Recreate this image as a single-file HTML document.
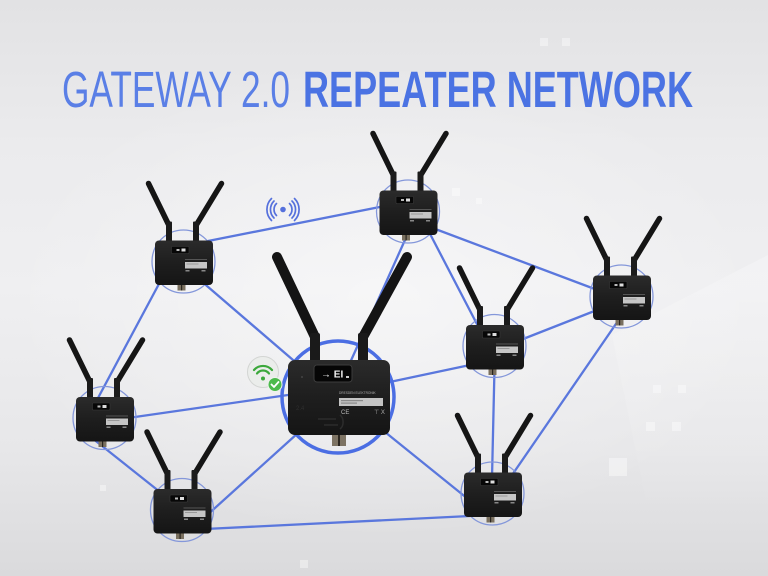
<!DOCTYPE html>
<html><head><meta charset="utf-8"><style>
html,body{margin:0;padding:0;width:768px;height:576px;overflow:hidden;background:#e8e8ea}
svg{display:block}
</style></head><body>
<svg width="768" height="576" viewBox="0 0 768 576" xmlns="http://www.w3.org/2000/svg">
<defs>
<linearGradient id="bg" x1="0" y1="0" x2="0" y2="1">
<stop offset="0" stop-color="#e2e2e4"/><stop offset="0.25" stop-color="#ebebed"/>
<stop offset="0.5" stop-color="#efeff1"/><stop offset="0.78" stop-color="#e7e7e9"/>
<stop offset="1" stop-color="#dadadc"/></linearGradient>
<radialGradient id="glow" cx="0.5" cy="0.5" r="0.5"><stop offset="0" stop-color="#fff" stop-opacity="0.45"/><stop offset="1" stop-color="#fff" stop-opacity="0"/></radialGradient>
<linearGradient id="wedge" x1="0" y1="0" x2="0" y2="1"><stop offset="0" stop-color="#fff" stop-opacity="0.25"/><stop offset="1" stop-color="#fff" stop-opacity="0"/></linearGradient>
<linearGradient id="bodyg" x1="0" y1="0" x2="0" y2="1"><stop offset="0" stop-color="#2b2b2b"/><stop offset="0.5" stop-color="#1e1e1e"/><stop offset="1" stop-color="#151515"/></linearGradient>
<g id="dev">
 <circle r="31.5" fill="none" stroke="#8497da" stroke-width="1.3"/>
 <line x1="-35" y1="-78" x2="-14.5" y2="-36" stroke="#151515" stroke-width="5.5" stroke-linecap="round"/>
 <line x1="38" y1="-78" x2="12.5" y2="-36" stroke="#151515" stroke-width="5.5" stroke-linecap="round"/>
 <rect x="-17.5" y="-40" width="6" height="20" rx="1" fill="#1b1b1b"/>
 <rect x="9.5" y="-40" width="6" height="20" rx="1" fill="#1b1b1b"/>
 <rect x="-6" y="21" width="8" height="8" fill="#7a705f"/>
 <rect x="-2.5" y="21" width="1.2" height="8" fill="#2a261f"/>
 <rect x="-28.5" y="-21" width="58" height="44.5" rx="4" fill="url(#bodyg)"/>
 <rect x="-12" y="-15" width="17.5" height="7" rx="1" fill="#070707" stroke="#3a3a3a" stroke-width="0.6"/>
 <rect x="-7" y="-12.5" width="3" height="2" fill="#bbb"/>
 <rect x="-2" y="-13" width="4" height="3" fill="#ddd"/>
 <rect x="1.5" y="-2.5" width="22" height="1" fill="#555"/>
 <rect x="1.5" y="0.5" width="22" height="6.5" fill="#c6c6c6"/>
 <rect x="3" y="2" width="12" height="1" fill="#999"/>
 <rect x="2" y="8.5" width="4" height="1.5" fill="#888"/>
 <rect x="18" y="8.5" width="4" height="1.5" fill="#888"/>
</g>
</defs>
<rect width="768" height="576" fill="url(#bg)"/>
<ellipse cx="384" cy="300" rx="380" ry="240" fill="url(#glow)"/>
<polygon points="612,335 768,255 768,520 650,520" fill="url(#wedge)"/>
<g fill="#ffffff" opacity="0.4">
<rect x="609" y="458" width="18" height="18"/><rect x="646" y="422" width="9" height="9"/><rect x="672" y="422" width="9" height="9"/>
<rect x="653" y="385" width="8" height="8"/><rect x="678" y="385" width="8" height="8"/>
<rect x="540" y="38" width="8" height="8"/><rect x="562" y="38" width="8" height="8"/>
<rect x="452" y="188" width="8" height="8"/><rect x="476" y="198" width="6" height="6"/>
<rect x="100" y="485" width="6" height="6"/><rect x="300" y="560" width="8" height="8"/>
</g>

<!-- Title -->
<text x="62" y="107" font-family="Liberation Sans, Arial, sans-serif" font-size="51" fill="#5a7fe6" textLength="228" lengthAdjust="spacingAndGlyphs">GATEWAY 2.0</text>
<text x="303" y="107" font-family="Liberation Sans, Arial, sans-serif" font-size="51" font-weight="bold" fill="#4b73e3" textLength="390" lengthAdjust="spacingAndGlyphs">REPEATER NETWORK</text>

<!-- Connections -->
<g stroke="#5a77dd" stroke-width="2.3" stroke-linecap="round" fill="none">
<line x1="208" y1="241" x2="385" y2="206"/>
<line x1="200" y1="280" x2="300" y2="366"/>
<line x1="160" y1="282" x2="98" y2="398"/>
<line x1="430" y1="227" x2="600" y2="291"/>
<line x1="428" y1="230" x2="479" y2="328"/>
<line x1="409" y1="231" x2="349" y2="365"/>
<line x1="597" y1="310" x2="518" y2="341"/>
<line x1="620" y1="318" x2="510" y2="478"/>
<line x1="470" y1="365" x2="385" y2="383"/>
<line x1="494.5" y1="368" x2="492" y2="478"/>
<line x1="385" y1="432" x2="468" y2="499"/>
<line x1="205" y1="529" x2="470" y2="516"/>
<line x1="298" y1="433" x2="205" y2="517"/>
<line x1="128" y1="418" x2="295" y2="394"/>
<line x1="92" y1="438" x2="160" y2="492"/>
</g>

<!-- Broadcast icon -->
<g stroke="#5570dc" stroke-width="1.7" fill="none" stroke-linecap="round">
<path d="M276.5 203.5 A8.5 8.5 0 0 0 276.5 215.5"/>
<path d="M274 201 A12 12 0 0 0 274 218"/>
<path d="M271.5 198.5 A15.5 15.5 0 0 0 271.5 220.5"/>
<path d="M289.5 203.5 A8.5 8.5 0 0 1 289.5 215.5"/>
<path d="M292 201 A12 12 0 0 1 292 218"/>
<path d="M294.5 198.5 A15.5 15.5 0 0 1 294.5 220.5"/>
</g>
<circle cx="283" cy="209.5" r="2.8" fill="#5570dc"/>

<!-- Small devices -->
<use href="#dev" x="183.5" y="261.5"/>
<use href="#dev" x="408" y="211.5"/>
<use href="#dev" x="621.5" y="296.5"/>
<use href="#dev" x="494.5" y="346"/>
<use href="#dev" x="492.5" y="493.5"/>
<use href="#dev" x="104.5" y="418"/>
<use href="#dev" x="182" y="510"/>

<!-- Main device -->
<g transform="translate(338,397)">
 <circle r="56" fill="none" stroke="#4b6ee3" stroke-width="3.5"/>
 <line x1="-61" y1="-140" x2="-23" y2="-60" stroke="#141414" stroke-width="10" stroke-linecap="round"/>
 <line x1="69" y1="-140" x2="25" y2="-60" stroke="#141414" stroke-width="10" stroke-linecap="round"/>
 <rect x="-28" y="-64" width="10" height="30" rx="2" fill="#1a1a1a"/>
 <rect x="20" y="-64" width="10" height="30" rx="2" fill="#1a1a1a"/>
 <rect x="-6" y="35" width="14" height="14" fill="#7d7363"/>
 <rect x="0" y="35" width="2" height="14" fill="#2b261f"/>
 <rect x="-50" y="-37" width="102" height="75" rx="7" fill="url(#bodyg)"/>
 <rect x="-24" y="-32" width="38" height="17" rx="3" fill="#060606" stroke="#3c3c3c" stroke-width="1"/>
 <text x="-17" y="-19.5" font-family="Liberation Sans, DejaVu Sans, sans-serif" font-size="10" font-weight="bold" fill="#f2f2f2">→ EI</text>
 <rect x="8" y="-21" width="3" height="2" fill="#ccc"/>
 <circle cx="-36" cy="-20" r="1" fill="#444"/>
 <text x="1" y="-3" font-family="Liberation Sans, sans-serif" font-size="3.2" fill="#aaa">DRESDEN ELEKTRONIK</text>
 <rect x="1" y="1" width="44" height="8" fill="#c4c4c4"/>
 <rect x="3" y="3" width="22" height="1.2" fill="#8a8a8a"/>
 <rect x="3" y="5.5" width="16" height="1.2" fill="#8a8a8a"/>
 <text x="3" y="17" font-family="Liberation Sans, sans-serif" font-size="6" fill="#bbb">CE</text>
 <text x="36" y="17" font-family="Liberation Sans, sans-serif" font-size="6" fill="#aaa">⊤ X</text>
 <text x="-42" y="13" font-family="Liberation Sans, sans-serif" font-size="6" fill="#2e2e2e">2.4</text>
 <path d="M-20 22 h18 M-14 28 h14" stroke="#2c2c2c" stroke-width="1.5"/>
 <path d="M2 18 a6 8 0 0 1 0 14" stroke="#2c2c2c" stroke-width="1.5" fill="none"/>
</g>

<!-- WiFi badge -->
<circle cx="263" cy="372" r="15.5" fill="#ebedeb" stroke="#d3d5d3" stroke-width="1"/>
<g stroke="#3ba83b" stroke-width="2.2" fill="none" stroke-linecap="round">
<path d="M254 370 A12 12 0 0 1 272 370"/>
<path d="M257 373.5 A7.5 7.5 0 0 1 269 373.5"/>
</g>
<circle cx="263" cy="378.5" r="2" fill="#3ba83b"/>
<circle cx="275" cy="384.5" r="7" fill="#4cba4c" stroke="#eef3ee" stroke-width="1"/>
<path d="M271.5 384.5 l2.5 2.5 l4.5 -5" stroke="#fff" stroke-width="1.8" fill="none" stroke-linecap="round" stroke-linejoin="round"/>
</svg>
</body></html>
